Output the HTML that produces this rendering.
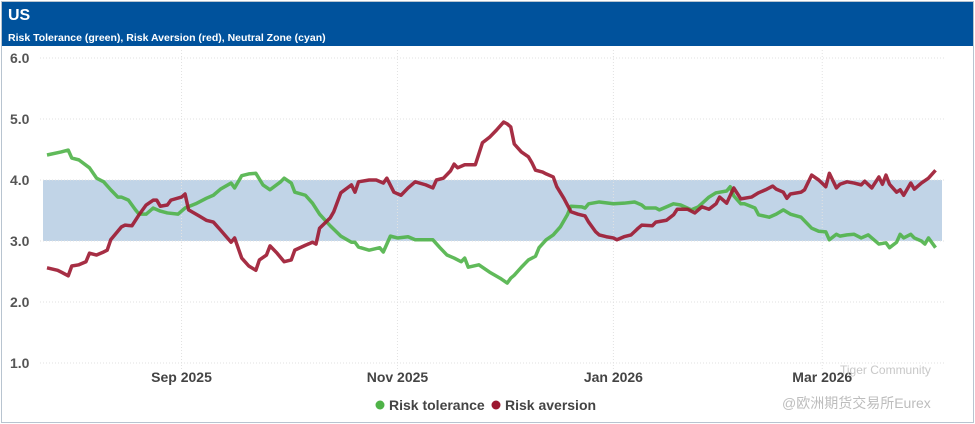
<!DOCTYPE html>
<html><head><meta charset="utf-8"><style>
html,body{margin:0;padding:0;background:#fff;}
body{width:975px;height:424px;overflow:hidden;font-family:"Liberation Sans","Noto Sans CJK SC",sans-serif;}
#frame{position:absolute;left:1px;top:1px;width:971px;height:420px;border:1px solid #b8c4d0;}
#hdr{position:absolute;left:2px;top:2px;width:971px;height:44px;background:#00529c;color:#fff;}
#ttl{position:absolute;left:6px;top:5px;font-weight:bold;font-size:16px;}
#sub{position:absolute;left:6px;top:30px;font-weight:bold;font-size:10.5px;}
svg{position:absolute;left:0;top:0;}
</style></head><body>
<div id="frame"></div>
<div id="hdr">
<div id="ttl">US</div>
<div id="sub">Risk Tolerance (green), Risk Aversion (red), Neutral Zone (cyan)</div>
</div>
<svg id="chart" width="975" height="424"></svg>
<script>
const yTicks=[1,2,3,4,5,6];
const xTickLabels=["Sep 2025","Nov 2025","Jan 2026","Mar 2026"];
const xTickDays=[38,99,160,219];
const neutralZone=[3,4];
const greenDays=[0,4,6,7,9,12,14,16,18,20,21,23,25,26,28,30,32,34,37,39,42,45,47,49,52,53,55,57,59,61,63,66,67,69,70,73,75,77,80,83,86,87,88,91,94,95,97,99,102,104,107,109,111,113,115,117,118,119,122,125,128,130,131,132,134,136,138,139,141,143,145,147,148,151,152,153,156,160,163,166,168,169,172,173,175,177,179,182,184,187,189,192,193,194,196,197,200,201,204,206,208,210,213,216,218,220,221,223,224,226,228,230,232,235,237,238,240,241,242,244,245,247,248,249,251];
const greenValues=[4.41,4.46,4.49,4.36,4.33,4.20,4.03,3.97,3.84,3.72,3.72,3.67,3.51,3.44,3.44,3.54,3.49,3.46,3.44,3.54,3.61,3.70,3.75,3.85,3.95,3.87,4.07,4.10,4.11,3.92,3.84,3.97,4.03,3.95,3.80,3.75,3.62,3.44,3.25,3.08,2.98,2.98,2.90,2.85,2.89,2.82,3.08,3.05,3.07,3.02,3.02,3.02,2.89,2.77,2.72,2.66,2.72,2.57,2.61,2.49,2.39,2.31,2.39,2.44,2.57,2.69,2.75,2.89,3.02,3.10,3.23,3.43,3.57,3.56,3.54,3.61,3.64,3.61,3.62,3.64,3.59,3.54,3.54,3.51,3.56,3.61,3.59,3.51,3.56,3.72,3.79,3.82,3.89,3.74,3.61,3.61,3.54,3.43,3.39,3.44,3.51,3.44,3.39,3.21,3.16,3.15,3.02,3.11,3.08,3.10,3.11,3.05,3.10,2.95,2.97,2.89,2.98,3.11,3.05,3.11,3.05,3.00,2.95,3.05,2.89];
const redDays=[0,3,4,6,7,9,11,12,14,16,17,18,21,22,24,26,28,30,31,32,34,35,38,39,40,43,45,47,49,52,53,55,57,59,60,62,63,65,67,69,70,73,75,76,77,80,81,83,86,87,88,91,93,95,96,98,100,102,104,107,109,110,112,114,115,116,118,121,123,125,127,129,130,131,132,134,136,137,138,140,141,143,144,146,148,150,152,153,155,156,158,160,161,163,165,167,168,171,172,175,177,178,181,183,185,187,189,190,192,194,196,199,201,203,205,206,208,209,210,213,214,216,218,220,221,223,224,226,228,230,231,233,235,236,237,238,240,241,242,244,245,247,249,251];
const redValues=[2.56,2.52,2.49,2.43,2.59,2.61,2.66,2.80,2.77,2.82,2.85,3.02,3.23,3.26,3.25,3.43,3.59,3.67,3.67,3.57,3.59,3.67,3.72,3.77,3.51,3.41,3.34,3.31,3.18,2.98,3.05,2.72,2.59,2.52,2.69,2.77,2.92,2.80,2.66,2.69,2.85,2.93,2.98,2.95,3.21,3.38,3.48,3.79,3.92,3.80,3.97,4.00,4.00,3.95,4.03,3.80,3.75,3.87,3.97,3.92,3.87,4.00,4.03,4.15,4.26,4.20,4.25,4.25,4.61,4.70,4.82,4.95,4.92,4.87,4.59,4.46,4.38,4.28,4.16,4.13,4.10,4.05,3.89,3.70,3.48,3.44,3.41,3.31,3.15,3.10,3.07,3.05,3.02,3.07,3.10,3.21,3.26,3.25,3.31,3.34,3.43,3.52,3.52,3.46,3.56,3.52,3.61,3.72,3.62,3.87,3.69,3.72,3.79,3.84,3.90,3.85,3.80,3.70,3.77,3.80,3.84,4.08,4.00,3.89,4.11,3.87,3.93,3.97,3.95,3.92,3.98,3.87,4.05,3.93,4.08,3.93,3.80,3.84,3.75,3.95,3.85,3.95,4.03,4.16];

const NS="http://www.w3.org/2000/svg";
const svg=document.getElementById('chart');
const X=d=>47+d*3.54;
const Y=v=>58+(6-v)*61;
function mk(t,a,p){const e=document.createElementNS(NS,t);for(const k in a)e.setAttribute(k,a[k]);(p||svg).appendChild(e);return e;}

const band=mk('rect',{x:43,y:Y(neutralZone[1]),width:899,height:Y(neutralZone[0])-Y(neutralZone[1]),fill:'#c1d4e7'});



yTicks.forEach(v=>{
  const g=mk('line',{x1:40,x2:945,y1:Y(v),y2:Y(v),stroke:'#e2e2e2','stroke-dasharray':'1,2'});
  
  
  const t=mk('text',{x:10,y:Y(v)+5,'font-size':14,'font-weight':'bold',fill:'#555'});
  t.textContent=v.toFixed(1);
  
  
});
xTickDays.forEach((d,i)=>{
  const g=mk('line',{x1:X(d),x2:X(d),y1:50,y2:370,stroke:'#e2e2e2','stroke-dasharray':'1,2'});
  
  
  const t=mk('text',{x:X(d),y:382,'font-size':14,'font-weight':'bold',fill:'#444','text-anchor':'middle'});
  t.textContent=xTickLabels[i];
  
  
});
function line(days,vals,color,name){
  const p=mk('polyline',{points:days.map((d,i)=>X(d)+','+Y(vals[i])).join(' '),fill:'none',stroke:color,'stroke-width':3.5,'stroke-linejoin':'round','stroke-opacity':0.9});
  
  
}
line(greenDays,greenValues,'#4fb348','risk-tolerance-line');
line(redDays,redValues,'#9c1730','risk-aversion-line');

const lg=[[380,'#4fb348','Risk tolerance','legend-risk-tolerance'],[496,'#9c1730','Risk aversion','legend-risk-aversion']];
lg.forEach(l=>{
  const g=mk('g',{});
  
  
  mk('circle',{cx:l[0],cy:405,r:4.5,fill:l[1]},g);
  const t=mk('text',{x:l[0]+9,y:410,'font-size':14,'font-weight':'bold',fill:'#444'},g);
  t.textContent=l[2];
});
const w1=mk('text',{x:840,y:374,'font-size':12,fill:'#c8c8c8'});
w1.textContent='Tiger Community';


const w2=mk('text',{x:782,y:408,'font-size':14,fill:'#bdbdbd'});
w2.textContent='@欧洲期货交易所Eurex';


</script>
</body></html>
